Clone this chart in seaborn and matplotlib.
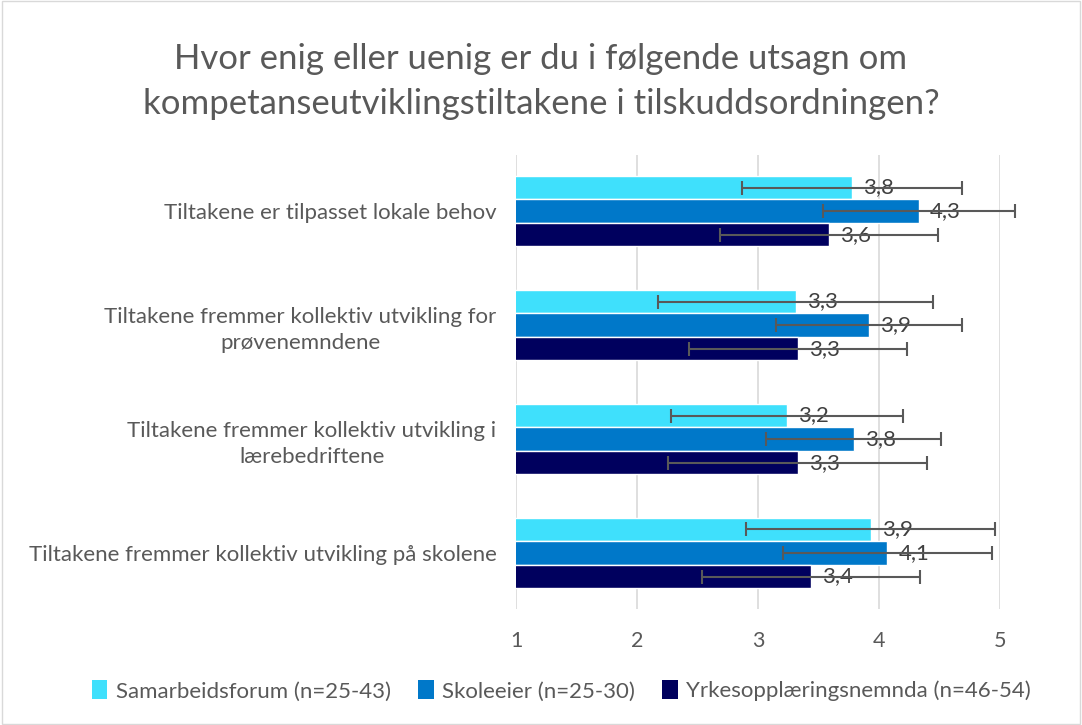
import matplotlib
matplotlib.use("Agg")
import matplotlib.pyplot as plt
from matplotlib.patches import Patch, Rectangle
import seaborn as sns
import pandas as pd

categories = [
    "Tiltakene er tilpasset lokale behov",
    "Tiltakene fremmer kollektiv utvikling for\nprøvenemndene",
    "Tiltakene fremmer kollektiv utvikling i\nlærebedriftene",
    "Tiltakene fremmer kollektiv utvikling på skolene",
]
series = ["Samarbeidsforum (n=25-43)", "Skoleeier (n=25-30)", "Yrkesopplæringsnemnda (n=46-54)"]
samarbeid = [3.78, 3.31, 3.24, 3.93]
skoleeier = [4.33, 3.92, 3.79, 4.07]
yrkes = [3.59, 3.33, 3.33, 3.44]
err_samarbeid = [0.91, 1.14, 0.96, 1.03]
err_skoleeier = [0.79, 0.77, 0.72, 0.86]
err_yrkes = [0.90, 0.90, 1.07, 0.90]
labels_samarbeid = ["3,8", "3,3", "3,2", "3,9"]
labels_skoleeier = ["4,3", "3,9", "3,8", "4,1"]
labels_yrkes = ["3,6", "3,3", "3,3", "3,4"]
xticks = [1, 2, 3, 4, 5]
title = "Hvor enig eller uenig er du i følgende utsagn om\nkompetanseutviklingstiltakene i tilskuddsordningen?"

colors = ["#3FE0FC", "#0078C9", "#00005E"]
text_col = "#595959"

sns.set_style("white")
plt.rcParams['font.family'] = ['Lato', 'DejaVu Sans']

values = [samarbeid, skoleeier, yrkes]
errs = [err_samarbeid, err_skoleeier, err_yrkes]
labs = [labels_samarbeid, labels_skoleeier, labels_yrkes]

rows = []
for s, vals in zip(series, values):
    for c, v in zip(categories, vals):
        rows.append({"cat": c, "series": s, "val": v})
df = pd.DataFrame(rows)

fig = plt.figure(figsize=(10.82, 7.25), dpi=100)
ax = fig.add_axes([0.4769, 0.16, 0.4473, 0.626])

sns.barplot(data=df, y="cat", x="val", hue="series", order=categories, hue_order=series,
            palette=colors, orient="h", width=0.62, gap=0, errorbar=None, ax=ax,
            legend=False, saturation=1)

ax.set_xlim(1, 5)
ax.set_xticks(xticks)
ax.grid(axis="x", color="#D9D9D9", linewidth=1.2)
ax.set_axisbelow(True)
for sp in ax.spines.values():
    sp.set_visible(False)
ax.set_xlabel("")
ax.set_ylabel("")
ax.tick_params(axis="x", length=0, pad=16, labelsize=15.5, labelcolor=text_col)
ax.tick_params(axis="y", length=0, pad=14, labelsize=16, labelcolor=text_col)
for t in ax.get_yticklabels():
    t.set_multialignment("center")
    t.set_linespacing(1.35)

for cont, e, lb in zip(ax.containers, errs, labs):
    ys = [b.get_y() + b.get_height() / 2 for b in cont]
    xs = [b.get_width() for b in cont]
    ax.bar_label(cont, labels=lb, padding=8, fontsize=16, color="#404040")
    eb = ax.errorbar(xs, ys, xerr=e, fmt="none", ecolor="#595959", elinewidth=1.5,
                     capsize=5, capthick=1.5, zorder=5)
    for art in eb.lines[1] + eb.lines[2]:
        art.set_clip_on(False)

fig.text(0.5, 0.887, title, ha="center", va="center", fontsize=25, color=text_col,
         linespacing=1.5)

handles = [Patch(facecolor=c, edgecolor="none") for c in colors]
fig.legend(handles, series, loc="center", bbox_to_anchor=(0.519, 0.047), ncol=3,
           frameon=False, fontsize=16, handlelength=0.7, handleheight=0.9,
           handletextpad=0.4, columnspacing=1.2, labelcolor=text_col)

fig.patches.append(Rectangle((0.002, 0.002), 0.996, 0.996, transform=fig.transFigure,
                             fill=False, edgecolor="#D9D9D9", linewidth=1))

fig.savefig("out.png", dpi=100)
